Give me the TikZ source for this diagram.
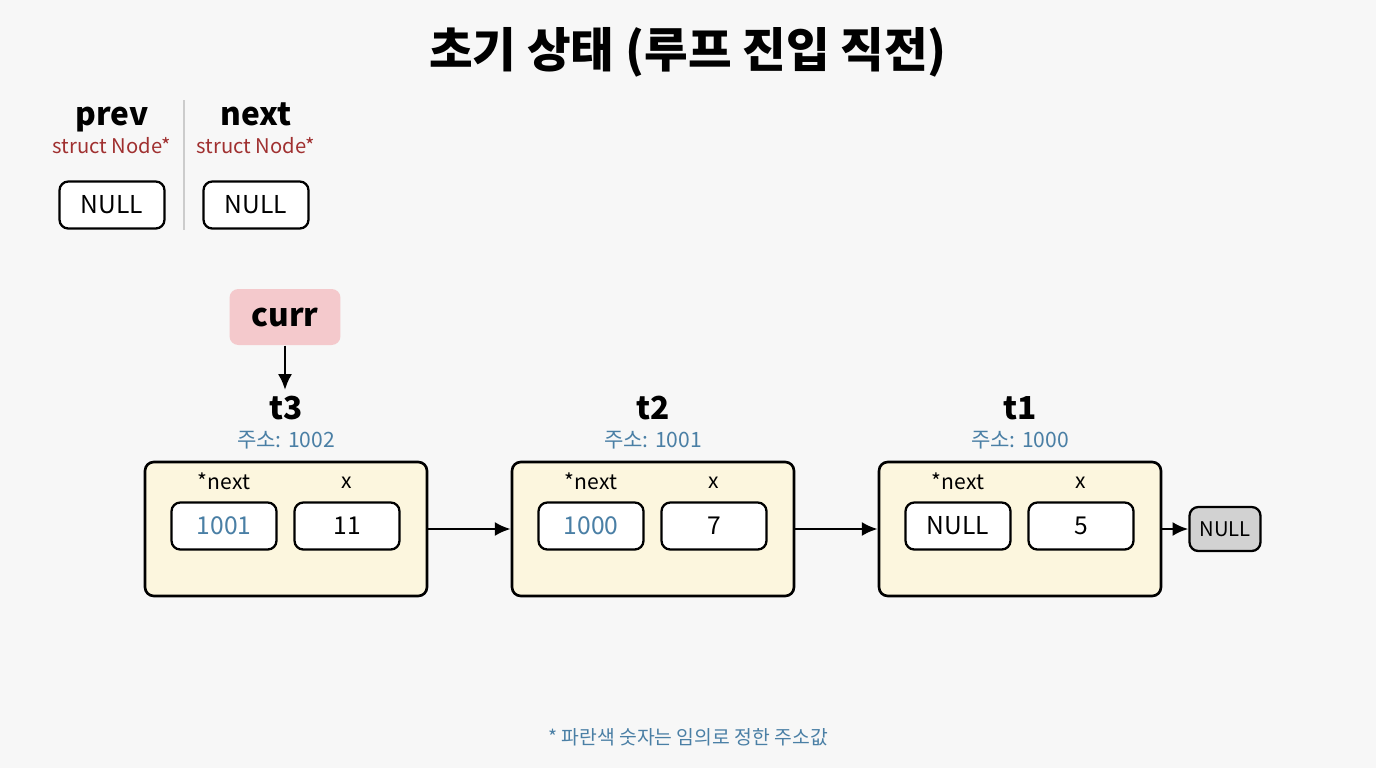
\documentclass[tikz,border=0pt]{standalone}
\usepackage{fontspec}
\setmainfont{Noto Sans CJK KR}
\usetikzlibrary{arrows.meta,positioning}
\definecolor{bgc}{HTML}{F7F7F7}
\definecolor{nodefill}{HTML}{FCF6DE}
\definecolor{addr}{HTML}{4A7FA5}
\definecolor{typec}{HTML}{A03030}
\definecolor{currc}{HTML}{F4C9CC}
\begin{document}
\begin{tikzpicture}[
    x=0.02cm, y=-0.02cm,
    thick,
    >={Latex[length=9pt,width=8pt]},
    cell/.style = {
      draw, fill = white, rounded corners = 5pt, line width = 1.3pt,
      minimum width = 2.1cm, minimum height = 0.94cm, font = \fontsize{14}{14}\selectfont
    },
    frame/.style = {
      draw, fill = nodefill, rounded corners = 5pt, line width = 1.5pt,
      minimum width = 5.64cm, minimum height = 2.68cm
    },
    varname/.style = {font = \fontsize{18}{18}\selectfont\bfseries, text height = 13pt, text depth = 4pt},
    field/.style = {font = \fontsize{12}{12}\selectfont}
  ]
  \fill[bgc] (0,0) rectangle (1376,768);
  \useasboundingbox (0,0) rectangle (1376,768);

  \node[font=\fontsize{27}{27}\selectfont\bfseries] (title) at (688,52) {초기 상태 (루프 진입 직전)};

  % pointer variables
  \node[varname] (prev) at (112,118) {prev};
  \node[font=\fontsize{11.5}{11.5}\selectfont, text=typec] (prevtype) at (112,146) {struct Node*};
  \node[cell] (prevval) at (112,205) {NULL};
  \node[varname] (next) at (256,118) {next};
  \node[font=\fontsize{11.5}{11.5}\selectfont, text=typec] (nexttype) at (256,146) {struct Node*};
  \node[cell] (nextval) at (256,205) {NULL};
  \draw[gray!40, line width=1pt] (184,100) -- (184,230);

  % curr pointer
  \node[fill=currc, rounded corners=5pt, minimum width=2.22cm, minimum height=1.12cm,
        font=\fontsize{18}{18}\selectfont\bfseries] (curr) at (285,317) {curr};
  \coordinate (currtip) at (285,390);
  \draw[->, line width=1.5pt] (curr) -- (currtip);

  % list nodes
  \foreach \n/\cx/\adr/\ptr/\val/\pc in {t3/286/1002/1001/11/addr, t2/653/1001/1000/7/addr, t1/1020/1000/NULL/5/black} {
    \node[varname] (\n) at (\cx,412) {\n};
    \node[font=\fontsize{12}{12}\selectfont, text=addr] (\n adr) at (\cx,440) {주소: \adr};
    \node[frame] (\n box) at (\cx,529) {};
    \node[field] (\n lp) at (\cx-62,481) {*next};
    \node[field] (\n lx) at (\cx+61,483) {x};
    \node[cell, text=\pc] (\n ptr) at (\cx-62,526) {\ptr};
    \node[cell] (\n val) at (\cx+61,526) {\val};
  }
  \node[draw, fill=gray!35, rounded corners=5pt, line width=1.3pt, minimum width=1.42cm,
        minimum height=0.88cm, font=\fontsize{11.5}{11.5}\selectfont] (null) at (1225,529) {NULL};

  \draw[->, line width=1.5pt] (t3box) -- (t2box);
  \draw[->, line width=1.5pt] (t2box) -- (t1box);
  \draw[->, line width=1.5pt] (t1box) -- (null);

  \node[font=\fontsize{11}{11}\selectfont, text=addr] (note) at (688,737) {* 파란색 숫자는 임의로 정한 주소값};
\end{tikzpicture}
\end{document}
